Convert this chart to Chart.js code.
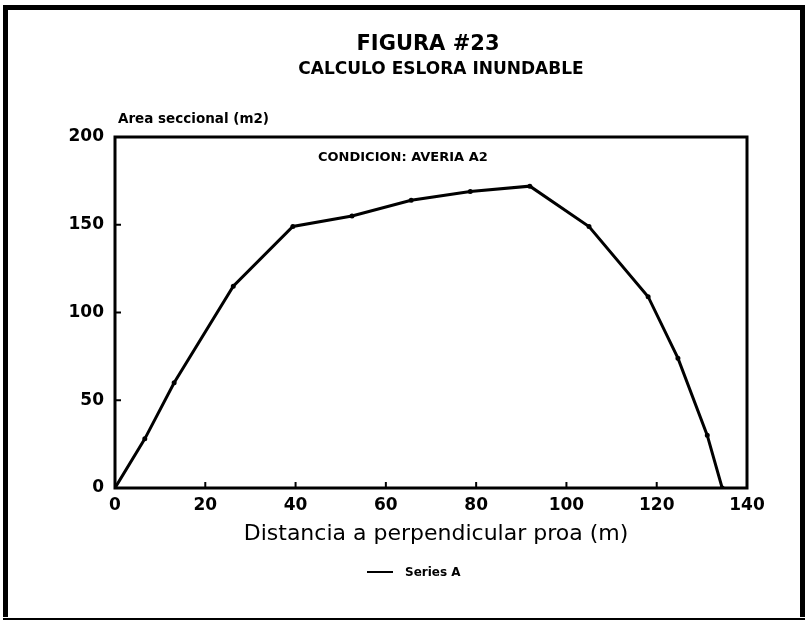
<!DOCTYPE html>
<html><head><meta charset="utf-8">
<script src="https://cdn.jsdelivr.net/npm/chart.js@4/dist/chart.umd.min.js"></script>
<style>html,body{margin:0;padding:0;background:#fff}#wrap{width:805px;height:622px}</style>
</head><body><div id="wrap"><canvas id="c" width="805" height="622"></canvas></div>
<script>
const distances=[0,6.6,13.1,26.2,39.4,52.5,65.6,78.7,91.9,105,118.1,124.7,131.2,134.5];
const areas=[0,28,60,115,149,155,164,169,172,149,109,74,30,0];
const xTicks=[0,20,40,60,80,100,120,140];
const yTicks=[0,50,100,150,200];
const titleLines=["FIGURA #23","CALCULO ESLORA INUNDABLE"];
const yTitle="Area seccional (m2)";
const xTitle="Distancia a perpendicular proa (m)";
const note="CONDICION: AVERIA A2";
const seriesName="Series A";

const F="'DejaVu Sans', sans-serif";
const decor={
  id:'decor',
  afterDraw(chart){
    const c=chart.ctx, a=chart.chartArea, xs=chart.scales.x, ys=chart.scales.y;
    c.save();
    c.fillStyle='#000';
    // outer frame
    c.fillRect(3,5,802,5);
    c.fillRect(3,5,5,612);
    c.fillRect(800,5,5,612);
    c.fillRect(3,618,802,2);
    // plot box
    c.strokeStyle='#000'; c.lineWidth=3;
    c.strokeRect(a.left,a.top,a.right-a.left,a.bottom-a.top);
    // inside ticks
    c.lineWidth=2;
    xTicks.slice(1,-1).forEach(v=>{const p=xs.getPixelForValue(v);c.beginPath();c.moveTo(p,a.bottom);c.lineTo(p,a.bottom-6);c.stroke();});
    yTicks.slice(1,-1).forEach(v=>{const p=ys.getPixelForValue(v);c.beginPath();c.moveTo(a.left,p);c.lineTo(a.left+6,p);c.stroke();});
    // titles
    c.textBaseline='middle'; c.textAlign='center';
    c.font="bold 21px "+F; c.fillText(titleLines[0],428,45);
    c.font="bold 17px "+F; c.fillText(titleLines[1],441,70);
    // y title
    c.textAlign='left'; c.font="bold 13.5px "+F; c.fillText(yTitle,118,119);
    // note
    c.font="bold 13px "+F; c.fillText(note,318,158);
    // x title
    c.textAlign='center'; c.font="22px "+F; c.fillText(xTitle,436,534);
    // legend
    c.lineWidth=2; c.beginPath(); c.moveTo(367,572); c.lineTo(393,572); c.stroke();
    c.textAlign='left'; c.font="bold 12px "+F; c.fillText(seriesName,405,573);
    c.restore();
  }
};

new Chart(document.getElementById('c'),{
  type:'scatter',
  data:{datasets:[{label:seriesName,data:distances.map((d,i)=>({x:d,y:areas[i]})),showLine:true,borderColor:'#000',backgroundColor:'#000',borderWidth:3,pointRadius:1,pointHoverRadius:1,tension:0}]},
  options:{
    responsive:false,animation:false,devicePixelRatio:1,
    layout:{padding:{left:0,top:137,right:58,bottom:0}},
    plugins:{legend:{display:false},title:{display:false},tooltip:{enabled:false}},
    scales:{
      x:{type:'linear',min:0,max:140,
        afterBuildTicks:s=>{s.ticks=xTicks.map(v=>({value:v}));},
        afterFit:s=>{s.height=134;},
        grid:{display:false,drawTicks:false},border:{display:false},
        ticks:{color:'#000',font:{family:F,weight:'bold',size:17},padding:7,maxRotation:0}},
      y:{type:'linear',min:0,max:200,
        afterBuildTicks:s=>{s.ticks=yTicks.map(v=>({value:v}));},
        afterFit:s=>{s.width=115;},
        grid:{display:false,drawTicks:false},border:{display:false},
        ticks:{color:'#000',font:{family:F,weight:'bold',size:17},padding:11}}
    }
  },
  plugins:[decor]
});
</script></body></html>
